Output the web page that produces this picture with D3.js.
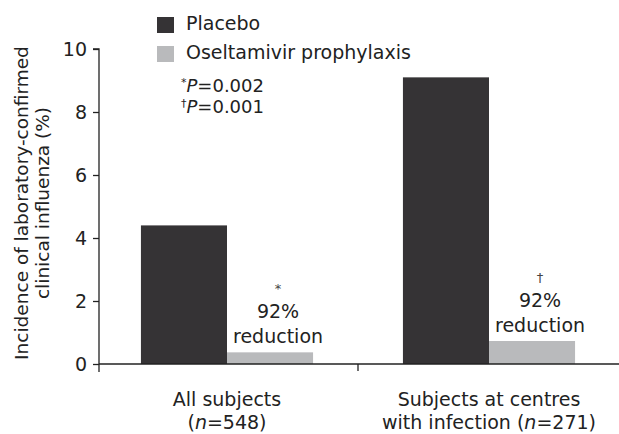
<!DOCTYPE html>
<html>
<head>
<meta charset="utf-8">
<script src="https://cdn.jsdelivr.net/npm/d3@7"></script>
<style>
  html, body { margin: 0; padding: 0; background: #fff; }
  svg { display: block; font-family: "DejaVu Sans", sans-serif; }
</style>
</head>
<body>
<svg id="chart" width="619" height="434"></svg>
<script>
// Incidence of laboratory-confirmed clinical influenza by group
const groups = ["All subjects", "Subjects at centres with infection"];
const groupLabels = [["All subjects", "(n=548)"], ["Subjects at centres", "with infection (n=271)"]];
const seriesNames = ["Placebo", "Oseltamivir prophylaxis"];
const placebo = [4.4, 9.1];
const oseltamivir = [0.37, 0.73];
const reductionMarks = ["*", "\u2020"];
const reductionText = ["92%", "reduction"];
const pValues = [["*", "0.002"], ["\u2020", "0.001"]];
const yTicks = [0, 2, 4, 6, 8, 10];
const colors = ["#353335", "#b9babc"];

const svg = d3.select("#chart");
const axisColor = "#222";
const textColor = "#222";
const fontSize = 19;

const y = d3.scaleLinear().domain([0, 10]).range([364, 49]);
const x = d3.scaleBand().domain(groups).range([96, 620])
  .paddingInner(0.343).paddingOuter(0.1715);
const sub = d3.scaleBand().domain(seriesNames).range([0, x.bandwidth()]);

// Bars
const rows = groups.map((g, i) => ({ g, vals: [placebo[i], oseltamivir[i]] }));
rows.forEach((r, i) => {
  r.vals.forEach((v, j) => {
    svg.append("rect")
      .attr("x", x(r.g) + sub(seriesNames[j]))
      .attr("y", y(v))
      .attr("width", sub.bandwidth())
      .attr("height", y(0) - y(v))
      .attr("fill", colors[j]);
  });
  // Reduction annotation above the oseltamivir bar
  const cx = x(r.g) + sub(seriesNames[1]) + sub.bandwidth() / 2 + 8;
  const top = y(r.vals[1]);
  svg.append("text").attr("x", cx).attr("y", top - 59)
    .attr("text-anchor", "middle").attr("font-size", 13).attr("fill", "#444")
    .text(reductionMarks[i]);
  svg.append("text").attr("x", cx).attr("y", top - 34)
    .attr("text-anchor", "middle").attr("font-size", fontSize).attr("fill", textColor)
    .text(reductionText[0]);
  svg.append("text").attr("x", cx).attr("y", top - 9)
    .attr("text-anchor", "middle").attr("font-size", fontSize).attr("fill", textColor)
    .text(reductionText[1]);
});

// Y axis
const yAxis = d3.axisLeft(y).tickValues(yTicks).tickSize(6).tickPadding(6).tickFormat(d3.format("d"));
const gy = svg.append("g").attr("transform", "translate(99,0)").call(yAxis);
gy.select(".domain").attr("d", `M-6,${y(10)}H0V${y(0) + 8}`).attr("stroke", axisColor).attr("stroke-width", 1.3);
gy.selectAll(".tick line").attr("stroke", axisColor).attr("stroke-width", 1.3);
gy.selectAll(".tick text").attr("font-size", 19).attr("fill", textColor)
  .attr("font-family", "\"DejaVu Sans\", sans-serif");

// X axis baseline with a separator tick between groups
svg.append("line").attr("x1", 99).attr("x2", 619).attr("y1", y(0)).attr("y2", y(0))
  .attr("stroke", axisColor).attr("stroke-width", 1.3);
const sepX = (x(groups[0]) + x.bandwidth() + x(groups[1])) / 2;
svg.append("line").attr("x1", sepX).attr("x2", sepX).attr("y1", y(0)).attr("y2", y(0) + 7)
  .attr("stroke", axisColor).attr("stroke-width", 1.3);

// Group labels with italic n
groupLabels.forEach((lines, i) => {
  const cx = x(groups[i]) + x.bandwidth() / 2;
  lines.forEach((line, k) => {
    const t = svg.append("text").attr("x", cx).attr("y", 406 + k * 23)
      .attr("text-anchor", "middle").attr("font-size", fontSize).attr("fill", textColor);
    const parts = line.split(/(n=)/);
    parts.forEach(p => {
      if (p === "n=") {
        t.append("tspan").attr("font-style", "italic").text("n");
        t.append("tspan").text("=");
      } else if (p) {
        t.append("tspan").text(p);
      }
    });
  });
});

// Y axis title
const yTitle = svg.append("text").attr("transform", "translate(0,203) rotate(-90)")
  .attr("text-anchor", "middle").attr("font-size", 18.5).attr("fill", textColor);
yTitle.append("tspan").attr("x", 0).attr("y", 28).text("Incidence of laboratory-confirmed");
yTitle.append("tspan").attr("x", 0).attr("y", 49).text("clinical influenza (%)");

// Legend
seriesNames.forEach((name, i) => {
  const ly = 17 + i * 29;
  svg.append("rect").attr("x", 157).attr("y", ly).attr("width", 17).attr("height", 16)
    .attr("fill", colors[i]);
  svg.append("text").attr("x", 186).attr("y", ly + 13).attr("font-size", fontSize)
    .attr("fill", textColor).text(name);
});

// P-values
pValues.forEach((p, i) => {
  const t = svg.append("text").attr("x", 181).attr("y", 92 + i * 21)
    .attr("font-size", 18).attr("fill", textColor);
  t.append("tspan").attr("font-size", 11).attr("dy", -6).text(p[0]);
  t.append("tspan").attr("font-style", "italic").attr("dy", 6).text("P");
  t.append("tspan").text("=" + p[1]);
});
</script>
</body>
</html>
